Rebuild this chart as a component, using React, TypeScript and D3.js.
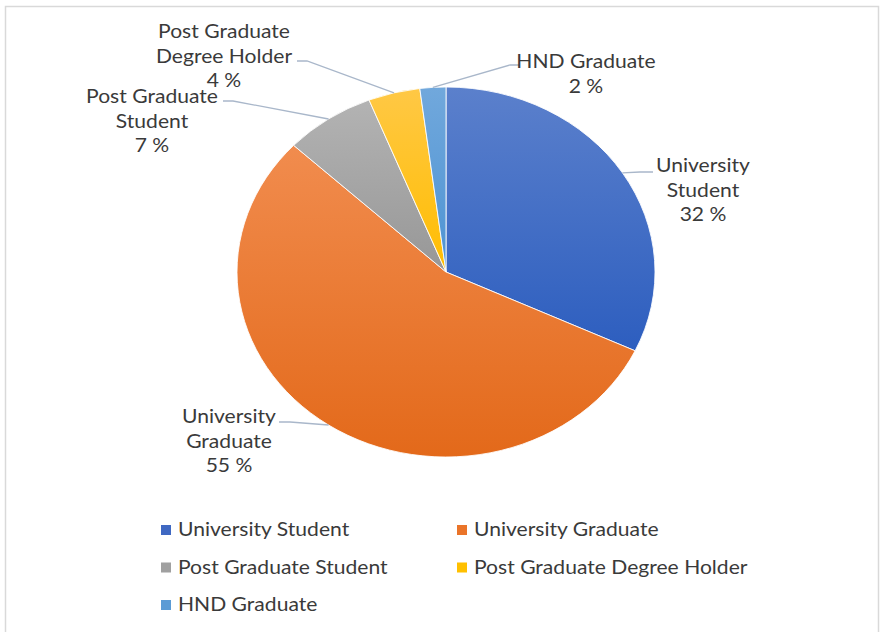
import { useEffect } from 'react'
import * as d3 from 'd3'

const categories = ['University Student', 'University Graduate', 'Post Graduate Student', 'Post Graduate Degree Holder', 'HND Graduate']
const shares = [32, 55, 7, 4, 2]
const labelLines = [
  ['University', 'Student', '32 %'],
  ['University', 'Graduate', '55 %'],
  ['Post Graduate', 'Student', '7 %'],
  ['Post Graduate', 'Degree Holder', '4 %'],
  ['HND Graduate', '2 %'],
]

// gradient stops per slice: [top, bottom]
const COLORS: [string, string][] = [
  ['#5b80cc', '#2d5ebf'],
  ['#f18c4e', '#e3691a'],
  ['#b3b3b3', '#979797'],
  ['#ffc845', '#ffbd00'],
  ['#71a8dc', '#4d93d3'],
]
const LEGEND_COLORS = ['#3f68c2', '#ea7429', '#a0a0a0', '#ffc000', '#5b9bd5']

// label layout: text centre x, first line y, and leader elbow/end
const LABELS = [
  { x: 703, y: 166, elbow: [640, 172], end: [653, 172] },
  { x: 229, y: 417, elbow: [290, 422], end: [279, 422] },
  { x: 152, y: 97, elbow: [233, 101], end: [223, 101] },
  { x: 224, y: 32, elbow: [307, 61], end: [297, 61] },
  { x: 586, y: 62, elbow: [510, 65], end: [519, 65] },
]

const W = 881
const H = 632
const cx = 446
const cy = 272
const ry = 185
const rx = 209
const FONT = 'Lato, "Noto Sans", sans-serif'
const FS = 18.5
const TX = 1.14 // the whole picture is stretched sideways

export default function App() {
  useEffect(() => {
    document.body.style.margin = '0'
  }, [])

  const data = categories.map((c, i) => ({ name: c, value: shares[i], i }))
  const pie = d3.pie<any>().value((d) => d.value).sort(null)
  const arcs = pie(data)
  const arc = d3.arc<any>().innerRadius(0).outerRadius(ry)
  const sx = rx / ry

  const edgePoint = (a: any) => {
    const m = (a.startAngle + a.endAngle) / 2
    return [cx + Math.sin(m) * rx, cy - Math.cos(m) * ry]
  }

  return (
    <svg width={W} height={H} style={{ display: 'block', background: '#fff' }} fontFamily={FONT}>
      <defs>
        {COLORS.map(([a, b], i) => (
          <linearGradient key={i} id={`g${i}`} x1="0" y1="0" x2="0" y2="1">
            <stop offset="0" stopColor={a} />
            <stop offset="1" stopColor={b} />
          </linearGradient>
        ))}
      </defs>
      <rect x={5.5} y={6.5} width={873} height={640} fill="#fff" stroke="#d9d9d9" strokeWidth={1.5} />

      <g transform={`translate(${cx},${cy}) scale(${sx},1)`}>
        {arcs.map((a, i) => (
          <path key={i} d={arc(a) as string} fill={`url(#g${i})`} stroke="#fff" strokeWidth={0.8} />
        ))}
      </g>

      {arcs.map((a, i) => {
        const p = edgePoint(a)
        const L = LABELS[i]
        return (
          <g key={i}>
            <polyline
              points={`${p[0]},${p[1]} ${L.elbow[0]},${L.elbow[1]} ${L.end[0]},${L.end[1]}`}
              fill="none"
              stroke="#a9b7ca"
              strokeWidth={1.3}
            />
            {labelLines[i].map((t, j) => (
              <text
                key={j}
                transform={`translate(${L.x},${L.y + j * 24.5}) scale(${TX},1)`}
                dy="0.35em"
                textAnchor="middle"
                fontSize={FS}
                fill="#3a3a3a"
              >
                {t}
              </text>
            ))}
          </g>
        )
      })}

      {categories.map((c, i) => {
        const col = i % 2
        const row = Math.floor(i / 2)
        const x = col === 0 ? 161 : 457
        const y = 530 + row * 37.5
        return (
          <g key={c}>
            <rect x={x} y={y - 5} width={10} height={10} fill={LEGEND_COLORS[i]} />
            <text transform={`translate(${x + 17},${y}) scale(${TX},1)`} dy="0.35em" fontSize={FS} fill="#3a3a3a">
              {c}
            </text>
          </g>
        )
      })}
    </svg>
  )
}
